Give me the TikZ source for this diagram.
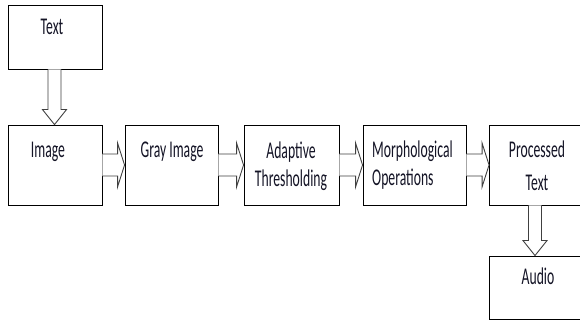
\documentclass[tikz,border=0pt]{standalone}
\usepackage{fontspec}
\setmainfont{Carlito}[FakeStretch=0.57]
\usetikzlibrary{calc}
\definecolor{txtcol}{HTML}{141426}
\definecolor{arrcol}{HTML}{404040}
\tikzset{
  box/.style={draw=black, line width=0.9pt, fill=white, inner sep=0pt, minimum height=80pt},
  lbl/.style={inner sep=0pt, text=txtcol, font=\fontsize{24}{28}\selectfont},
  blk/.style={draw=arrcol, line width=0.9pt, fill=white, line join=miter}
}
\newcommand\rightblock[2]{%
  \draw[blk] let \p1=(#1.east), \p2=(#2.west) in
    (\x1,\y1+11pt) -- (\x2-7pt,\y1+11pt) -- (\x2-7pt,\y1+22pt) -- (\x2,\y1)
    -- (\x2-7pt,\y1-22pt) -- (\x2-7pt,\y1-11pt) -- (\x1,\y1-11pt);}
\newcommand\downblock[3]{%
  \draw[blk] let \p1=(#1.south), \p2=(#2.north), \p3=(#3,0) in
    (\x3-6.5pt,\y1) -- (\x3-6.5pt,\y2+15pt) -- (\x3-12pt,\y2+15pt) -- (\x3,\y2)
    -- (\x3+12pt,\y2+15pt) -- (\x3+6.5pt,\y2+15pt) -- (\x3+6.5pt,\y1);}
\begin{document}
\begin{tikzpicture}[x=1pt,y=1pt]
\useasboundingbox[fill=white] (0,0) rectangle (580,320);
% boxes
\node[box, minimum width=94pt, minimum height=64pt] (txt) at (55,283) {};
\node[box, minimum width=94pt] (img) at (55,155) {};
\node[box, minimum width=93pt] (gray) at (171.5,155) {};
\node[box, minimum width=95pt] (adapt) at (291.5,155) {};
\node[box, minimum width=103pt] (morph) at (414.5,155) {};
\node[box, minimum width=100pt] (proc) at (539.5,155) {};
\node[box, minimum width=100pt, minimum height=63pt] (audio) at (539.5,32.5) {};
% labels
\node[lbl, anchor=base] (ltxt) at (52,285) {Text};
\node[lbl, anchor=base] (limg) at (48,162) {Image};
\node[lbl, anchor=base] (lgray) at (172,162) {Gray Image};
\node[lbl, align=center] (ladapt) at (291,153.5) {Adaptive\\Thresholding};
\node[lbl, align=left, anchor=west] (lmorph) at (372,154.5) {Morphological\\Operations};
\node[lbl, align=center, font=\fontsize{24}{33}\selectfont] (lproc) at (537,154.5) {Processed\\Text};
\node[lbl, anchor=base] (laudio) at (538,35) {Audio};
% arrows
\downblock{txt}{img}{54.5}
\rightblock{img}{gray}
\rightblock{gray}{adapt}
\rightblock{adapt}{morph}
\rightblock{morph}{proc}
\downblock{proc}{audio}{535}
\end{tikzpicture}
\end{document}
